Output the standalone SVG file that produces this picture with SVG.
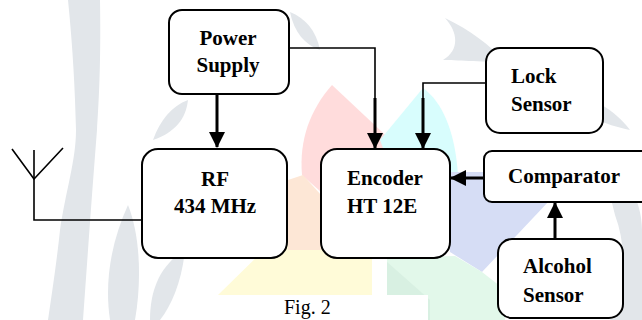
<svg xmlns="http://www.w3.org/2000/svg" width="642" height="320" viewBox="0 0 642 320">
  <defs>
    <marker id="arrow" viewBox="0 0 16 16" refX="15" refY="8" markerWidth="16" markerHeight="16" markerUnits="userSpaceOnUse" orient="auto">
      <path d="M0,0 L16,8 L0,16 Z" fill="#000"/>
    </marker>
    <style>
      .box { fill: #fff; stroke: #000; stroke-width: 2; }
      .lbl { font-family: "Liberation Serif", "Times New Roman", serif; font-weight: bold; font-size: 21px; fill: #000; }
      .cap { font-family: "Liberation Serif", "Times New Roman", serif; font-size: 20px; fill: #000; }
      .thin { fill: none; stroke: #000; stroke-width: 1.6; }
      .thick { fill: none; stroke: #000; stroke-width: 3; }
      .wm-grey { fill: #e2e6ea; }
    </style>
  </defs>

  <rect width="642" height="320" fill="#fff"/>

  <!-- background emblem -->
  <g id="emblem">
    <path class="wm-grey" d="M68,0 L100,0 C101,60 99,100 97,130 C93,180 88,250 83,320 L48,320 C54,280 58,250 60,230 C66,190 76,160 76,130 C75,90 73,50 68,0 Z"/>
    <path class="wm-grey" d="M110,320 C104,280 112,240 128,205 C140,235 142,280 135,320 Z"/>
    <path class="wm-grey" d="M150,320 C150,290 160,265 185,250 C182,280 172,305 160,320 Z"/>
    <path class="wm-grey" d="M153,140 C160,120 172,106 188,100 C186,118 176,132 153,140 Z"/>
    <path class="wm-grey" d="M290,12 C305,18 316,30 320,50 C305,45 294,32 290,12 Z"/>
    <path class="wm-grey" d="M445,18 C470,30 490,45 505,62 C480,62 455,60 443,60 C460,50 458,32 445,18 Z"/>
    <path class="wm-grey" d="M600,150 C625,170 642,200 642,230 L642,320 L610,320 C625,290 628,250 615,215 C610,195 605,175 600,150 Z"/>
    <path class="wm-grey" d="M560,90 C590,95 615,110 630,130 C605,125 580,115 560,90 Z"/>
    <path fill="#ffdcdc" d="M332,85 L397,146 L397,200 L330,200 L302,175 C299,140 310,110 332,85 Z"/>
    <path fill="#d8fdfd" d="M380,140 L423,88 C442,102 455,130 458,175 L450,180 L395,180 Z"/>
    <path fill="#d6ddf5" d="M450,172 L540,172 L550,200 L482,272 L450,252 Z"/>
    <path fill="#e2f8ea" d="M387,258 L455,256 L482,272 L505,290 L505,320 L387,320 Z"/>
    <path fill="#d8f0e2" d="M387,262 L430,300 L430,320 L387,320 Z"/>
    <path fill="#fffbd8" d="M218,295 L272,242 L330,240 L372,258 L372,295 Z"/>
    <path fill="#fde7d6" d="M288,180 L303,175 L321,195 L321,250 L288,250 Z"/>
    <rect x="212" y="295" width="216" height="25" fill="#fff"/>
  </g>

  <!-- connectors -->
  <g id="connectors">
    <polyline class="thick" points="217,94 217,147" marker-end="url(#arrow)"/>
    <polyline class="thin" points="289,48 375,48 375,100"/>
    <polyline class="thick" points="375,98 375,148" marker-end="url(#arrow)"/>
    <polyline class="thin" points="486,83 423,83 423,100"/>
    <polyline class="thick" points="423,98 423,148" marker-end="url(#arrow)"/>
    <polyline class="thick" points="484,178 451,178" marker-end="url(#arrow)"/>
    <polyline class="thick" points="555,239 555,203" marker-end="url(#arrow)"/>
    <!-- antenna feed -->
    <polyline class="thin" points="12,149 34,179 63,148"/>
    <polyline class="thin" points="34,150 34,220 142,220"/>
  </g>

  <g id="power-supply">
    <rect class="box" x="169" y="10" width="120" height="84" rx="13"/>
    <text class="lbl" x="228" y="45" text-anchor="middle">Power</text>
    <text class="lbl" x="228" y="72" text-anchor="middle">Supply</text>
  </g>

  <g id="rf">
    <rect class="box" x="142" y="149" width="145" height="109" rx="16"/>
    <text class="lbl" x="215" y="186" text-anchor="middle">RF</text>
    <text class="lbl" x="215" y="213" text-anchor="middle">434 MHz</text>
  </g>

  <g id="encoder">
    <rect class="box" x="321" y="149" width="129" height="109" rx="16"/>
    <text class="lbl" x="347" y="185">Encoder</text>
    <text class="lbl" x="347" y="213">HT 12E</text>
  </g>

  <g id="lock-sensor">
    <rect class="box" x="486" y="48" width="117" height="85" rx="14"/>
    <text class="lbl" x="511" y="83">Lock</text>
    <text class="lbl" x="511" y="111">Sensor</text>
  </g>

  <g id="comparator">
    <rect class="box" x="484" y="151" width="170" height="51" rx="8"/>
    <text class="lbl" x="508" y="183">Comparator</text>
  </g>

  <g id="alcohol-sensor">
    <rect class="box" x="498" y="239" width="125" height="79" rx="14"/>
    <text class="lbl" x="523" y="273">Alcohol</text>
    <text class="lbl" x="523" y="302">Sensor</text>
  </g>

  <text class="cap" x="284" y="314">Fig. 2</text>
</svg>
